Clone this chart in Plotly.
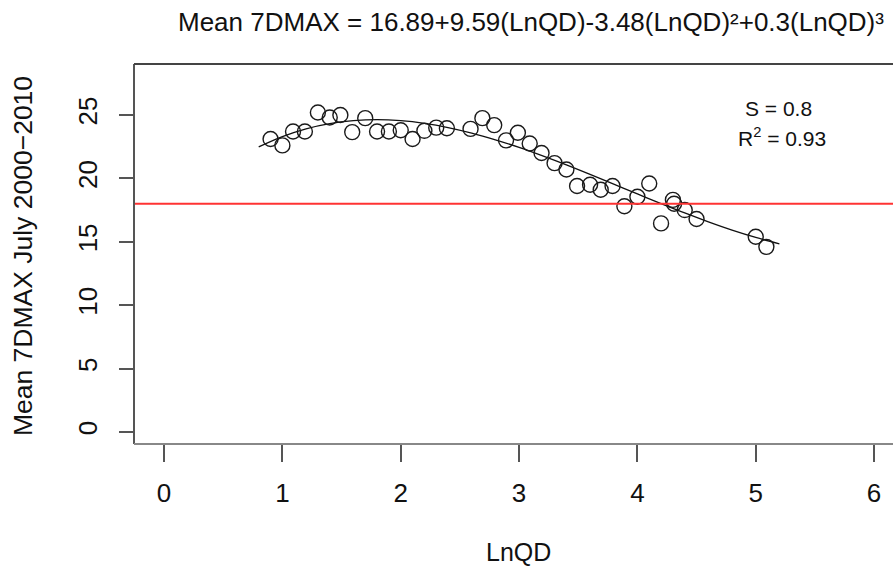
import plotly.graph_objects as go

# observed points
lnqd = [0.90, 1.00, 1.09, 1.19, 1.30, 1.40, 1.49, 1.59, 1.70, 1.80, 1.90, 2.00, 2.10,
        2.20, 2.30, 2.39, 2.59, 2.69, 2.79, 2.89, 2.99, 3.09, 3.19, 3.30, 3.40, 3.49,
        3.60, 3.69, 3.79, 3.89, 4.00, 4.10, 4.20, 4.30, 4.31, 4.40, 4.50, 5.00, 5.09]
tmax = [23.1, 22.6, 23.7, 23.7, 25.2, 24.8, 25.0, 23.65, 24.75, 23.7, 23.7, 23.8, 23.1,
        23.75, 24.0, 23.95, 23.9, 24.75, 24.2, 23.0, 23.6, 22.75, 22.0, 21.2, 20.7, 19.4,
        19.5, 19.1, 19.4, 17.8, 18.55, 19.6, 16.45, 18.3, 18.0, 17.5, 16.8, 15.4, 14.6]

# fitted curve
fit_x = [0.8, 1.0, 1.2, 1.4, 1.6, 1.8, 2.0, 2.2, 2.4, 2.6, 2.8, 3.0, 3.2, 3.4, 3.6,
         3.8, 4.0, 4.2, 4.4, 4.6, 4.8, 5.0, 5.2]
fit_y = [22.49, 23.30, 23.91, 24.32, 24.55, 24.63, 24.55, 24.34, 24.01, 23.57, 23.04,
         22.44, 21.77, 21.06, 20.31, 19.54, 18.77, 18.01, 17.27, 16.57, 15.92, 15.34, 14.84]

threshold = 18
x_ticks = [0, 1, 2, 3, 4, 5, 6]
y_ticks = [0, 5, 10, 15, 20, 25]

FONT = "Liberation Sans, Arial, sans-serif"
AX = "#555555"

fig = go.Figure()
fig.add_trace(go.Scatter(x=fit_x, y=fit_y, mode="lines", line=dict(color="#111111", width=1.3, shape="spline"),
                         showlegend=False, hoverinfo="skip"))
fig.add_trace(go.Scatter(x=lnqd, y=tmax, mode="markers",
                         marker=dict(symbol="circle-open", size=15, color="#1a1a1a", line=dict(width=1.4)),
                         showlegend=False))

fig.add_shape(type="line", xref="paper", yref="y", x0=0, x1=1, y0=threshold, y1=threshold,
              line=dict(color="#ff3333", width=1.8))
# box (left, top, bottom)
fig.add_shape(type="line", xref="paper", yref="paper", x0=0, x1=0, y0=0, y1=1, line=dict(color=AX, width=2))
fig.add_shape(type="line", xref="paper", yref="paper", x0=0, x1=1, y0=1, y1=1, line=dict(color="#444444", width=2))
fig.add_shape(type="line", xref="paper", yref="paper", x0=0, x1=1, y0=0, y1=0, line=dict(color="#888888", width=2))

fig.add_annotation(text="Mean 7DMAX = 16.89+9.59(LnQD)-3.48(LnQD)²+0.3(LnQD)³",
                   xref="paper", yref="paper", x=0.523, y=1.1105, xanchor="center", yanchor="middle",
                   showarrow=False, font=dict(family=FONT, size=26, color="#111111"))
fig.add_annotation(text="LnQD", xref="paper", yref="paper", x=0.506, y=-0.285, xanchor="center",
                   yanchor="middle", showarrow=False, font=dict(family=FONT, size=25, color="#111111"))
fig.add_annotation(text="Mean 7DMAX July 2000\u22122010", xref="paper", yref="paper", x=-0.146, y=0.495,
                   xanchor="center", yanchor="middle", textangle=-90, showarrow=False,
                   font=dict(family=FONT, size=26.5, color="#111111"))
fig.add_annotation(text="S = 0.8", xref="x", yref="y", x=5.19, y=25.5, showarrow=False,
                   font=dict(family=FONT, size=21, color="#111111"))
fig.add_annotation(text="R<sup>2</sup> = 0.93", xref="x", yref="y", x=5.22, y=23.3, showarrow=False,
                   font=dict(family=FONT, size=21, color="#111111"))

fig.update_layout(
    width=893, height=571,
    margin=dict(l=134, r=0, t=64, b=127),
    plot_bgcolor="white", paper_bgcolor="white",
    font=dict(family=FONT, size=26, color="#111111"),
    xaxis=dict(range=[-0.254, 6.16], tickvals=x_ticks, ticks="outside", ticklen=17, tickwidth=1.5,
               tickcolor=AX, showgrid=False, zeroline=False, showline=False,
               ticklabelstandoff=9, tickfont=dict(size=26)),
    yaxis=dict(range=[-0.95, 29.02], tickvals=y_ticks, ticks="outside", ticklen=14, tickwidth=1.5,
               tickcolor=AX, showgrid=False, zeroline=False, showline=False, tickangle=-90,
               ticklabelstandoff=12, tickfont=dict(size=26)),
)

fig.write_html("out.html")
